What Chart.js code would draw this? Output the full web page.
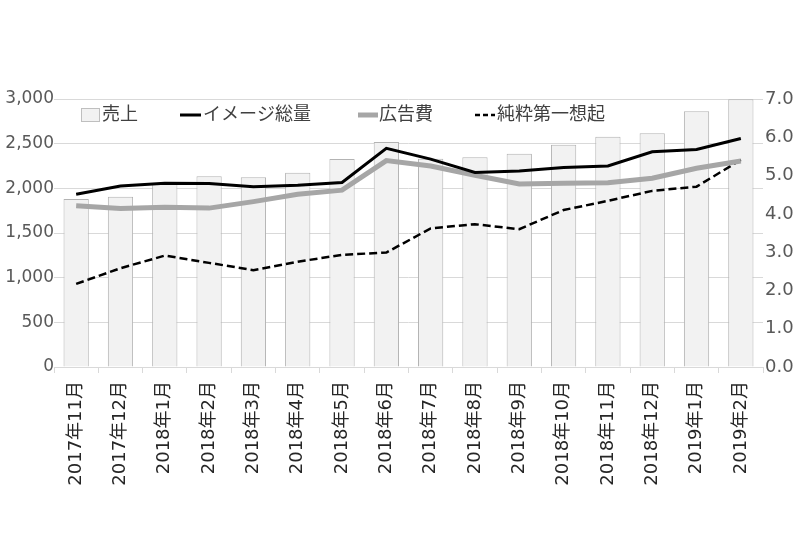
<!DOCTYPE html>
<html><head><meta charset="utf-8">
<script src="https://cdn.jsdelivr.net/npm/chart.js@4/dist/chart.umd.min.js"></script>
<style>html,body{margin:0;padding:0;background:#fff}#wrap{width:800px;height:533px}</style>
</head><body><div id="wrap"><canvas id="c" width="800" height="533"></canvas></div>
<script>
const categories = ["2017年11月","2017年12月","2018年1月","2018年2月","2018年3月","2018年4月","2018年5月","2018年6月","2018年7月","2018年8月","2018年9月","2018年10月","2018年11月","2018年12月","2019年1月","2019年2月"];
const sales = [1880,1905,2055,2135,2123,2175,2328,2519,2332,2347,2388,2489,2578,2616,2862,2997];
const imageTotal = [4.51,4.73,4.80,4.79,4.71,4.75,4.82,5.71,5.43,5.08,5.12,5.21,5.25,5.62,5.68,5.97];
const adCost = [4.21,4.14,4.17,4.15,4.32,4.51,4.62,5.39,5.25,5.01,4.78,4.80,4.81,4.93,5.19,5.38];
const pureRecall = [2.17,2.58,2.91,2.72,2.53,2.75,2.93,2.99,3.62,3.73,3.60,4.10,4.34,4.60,4.71,5.41];
const seriesNames = ["売上","イメージ総量","広告費","純粋第一想起"];

const FONT = "'DejaVu Sans','Noto Sans CJK JP',sans-serif";

const legendPlugin = {
  id: 'customLegend',
  afterDraw(chart) {
    const ctx = chart.ctx;
    ctx.save();
    ctx.font = "18px " + FONT;
    ctx.textBaseline = "middle";
    const y = 115;
    ctx.fillStyle = "#f2f2f2"; ctx.strokeStyle = "#bfbfbf"; ctx.lineWidth = 1;
    ctx.fillRect(81.5, 108.5, 18, 13); ctx.strokeRect(81.5, 108.5, 18, 13);
    ctx.fillStyle = "#404040";
    ctx.fillText(seriesNames[0], 102, y);
    ctx.strokeStyle = "#000"; ctx.lineWidth = 3;
    ctx.beginPath(); ctx.moveTo(180, y); ctx.lineTo(201, y); ctx.stroke();
    ctx.fillText(seriesNames[1], 203, y);
    ctx.strokeStyle = "#a6a6a6"; ctx.lineWidth = 5;
    ctx.beginPath(); ctx.moveTo(358, y); ctx.lineTo(378, y); ctx.stroke();
    ctx.fillText(seriesNames[2], 379, y);
    ctx.strokeStyle = "#000"; ctx.lineWidth = 2.5; ctx.setLineDash([5,3]);
    ctx.beginPath(); ctx.moveTo(475, y); ctx.lineTo(495, y); ctx.stroke();
    ctx.setLineDash([]);
    ctx.fillText(seriesNames[3], 497, y);
    ctx.restore();
  }
};

new Chart(document.getElementById('c'), {
  data: {
    labels: categories,
    datasets: [
      { type:'line', label: seriesNames[1], data: imageTotal, yAxisID:'y2', borderColor:'#000', borderWidth:3, pointRadius:0, tension:0, order:1 },
      { type:'line', label: seriesNames[2], data: adCost, yAxisID:'y2', borderColor:'#a6a6a6', borderWidth:5, pointRadius:0, tension:0, order:2 },
      { type:'line', label: seriesNames[3], data: pureRecall, yAxisID:'y2', borderColor:'#000', borderWidth:2.5, borderDash:[8,4], pointRadius:0, tension:0, order:3 },
      { type:'bar', label: seriesNames[0], data: sales, yAxisID:'y', backgroundColor:'#f2f2f2', borderColor:'#b3b3b3', borderWidth:1, barPercentage:0.57, categoryPercentage:1, order:4 }
    ]
  },
  options: {
    responsive:false, animation:false,
    layout:{ padding:{ top:99, bottom:0, left:0, right:0 } },
    plugins:{ legend:{display:false}, tooltip:{enabled:false} },
    scales:{
      x:{
        offset:true,
        grid:{ offset:true, drawOnChartArea:false, drawTicks:true, tickLength:6, color:'#d9d9d9' },
        border:{ color:'#d9d9d9' },
        ticks:{ minRotation:90, maxRotation:90, autoSkip:false, padding:8, color:'#262626', font:{ size:18, family:FONT } },
        afterFit(s){ s.height = 166; }
      },
      y:{
        position:'left', min:0, max:3000,
        ticks:{ stepSize:500, color:'#595959', padding:0, font:{ size:17, family:FONT },
          callback:v=>v.toLocaleString('en-US') },
        grid:{ color:'#d9d9d9', drawTicks:false },
        border:{ display:false },
        afterFit(s){ s.width = 54; }
      },
      y2:{
        position:'right', min:0, max:7,
        ticks:{ stepSize:1, color:'#595959', padding:2, font:{ size:18, family:FONT },
          callback:v=>Number(v).toFixed(1) },
        grid:{ drawOnChartArea:false, drawTicks:false },
        border:{ display:false },
        afterFit(s){ s.width = 37; }
      }
    }
  },
  plugins:[legendPlugin]
});
</script></body></html>
